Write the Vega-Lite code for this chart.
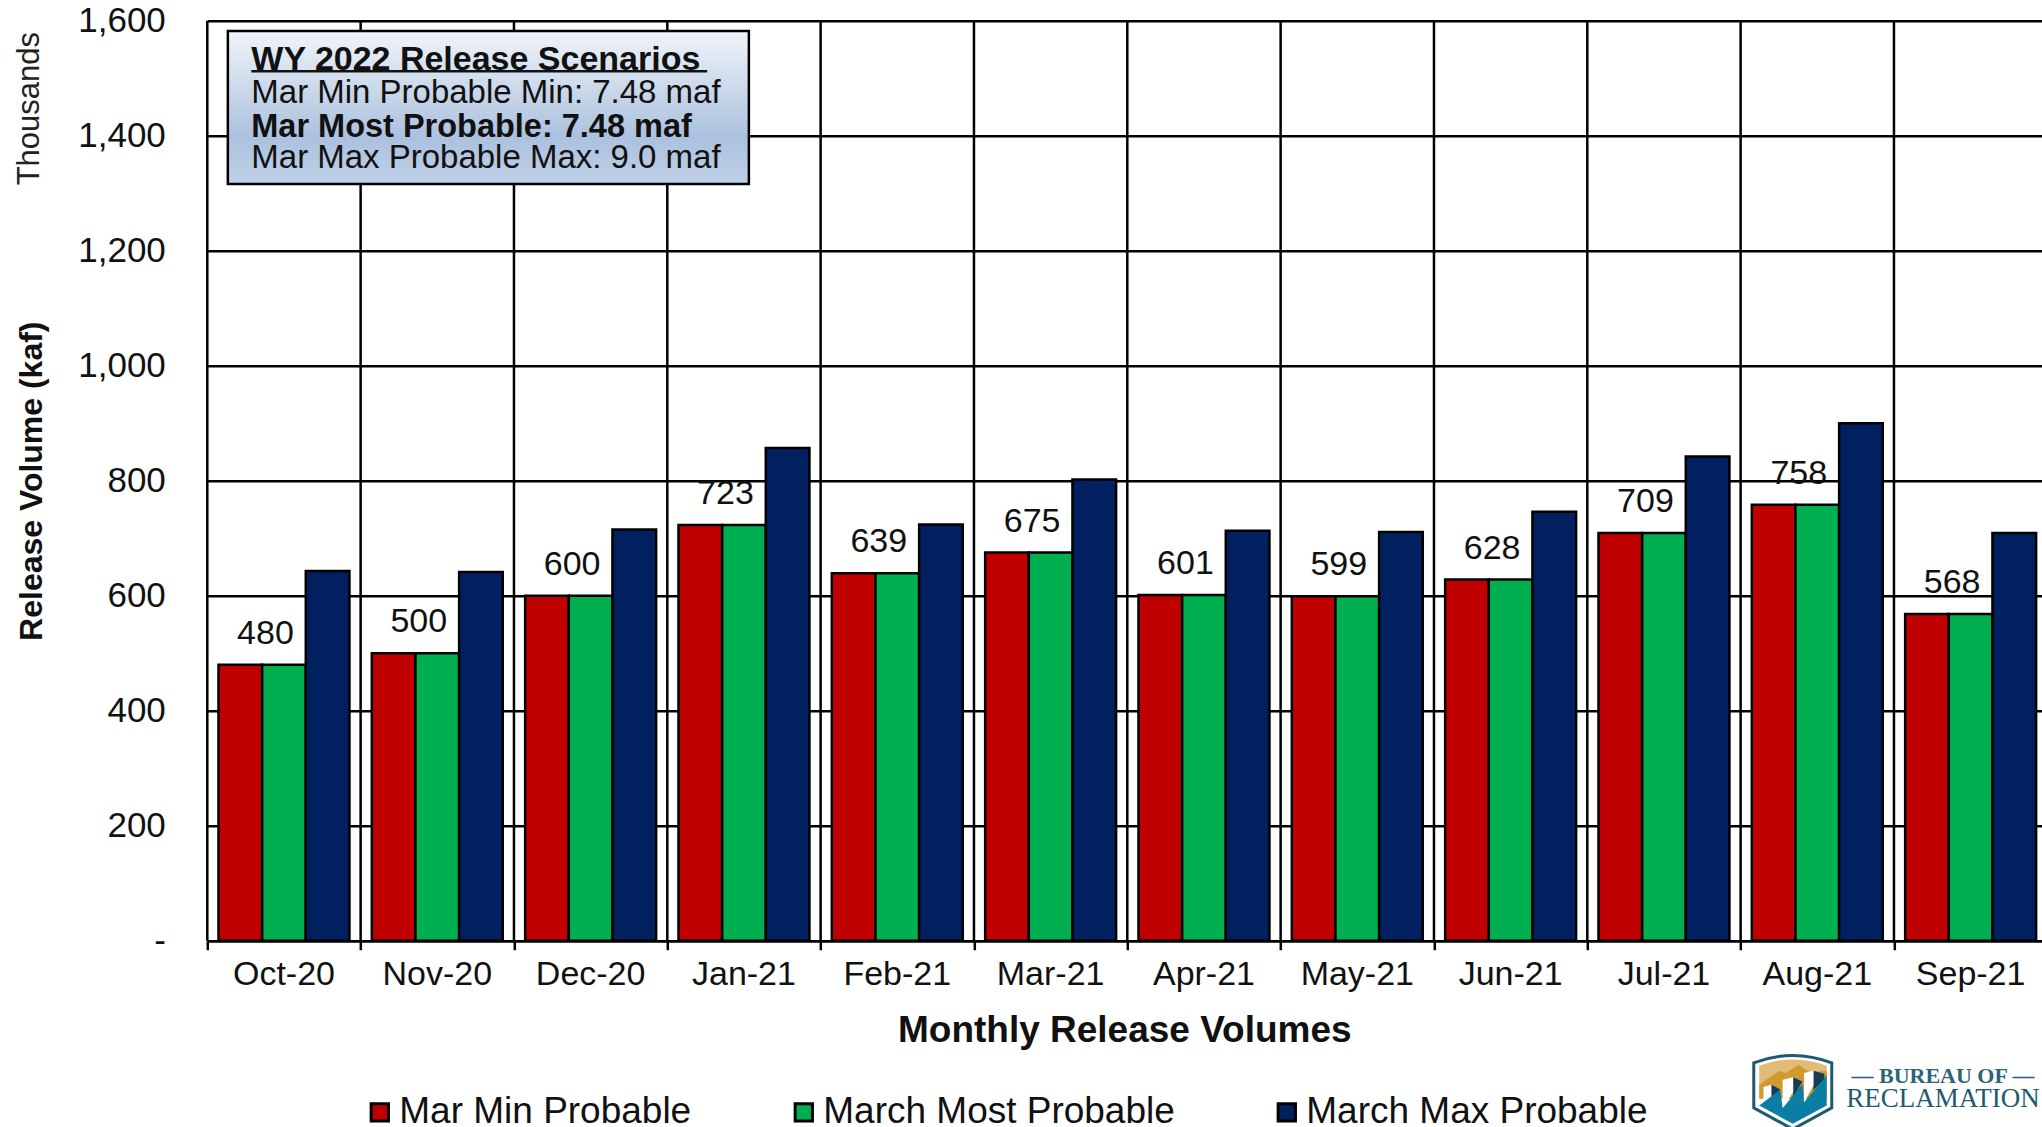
{"$schema":"https://vega.github.io/schema/vega-lite/v6.json","autosize":"none","width":1840,"height":920,"padding":{"left":207.3,"top":20.7,"right":0,"bottom":186.3},"background":"white","config":{"view":{"stroke":null},"font":"Liberation Sans"},
"datasets":{
"rel":[
{"m":"Oct-20","s":"Mar Min Probable","v":480},{"m":"Oct-20","s":"March Most Probable","v":480},{"m":"Oct-20","s":"March Max Probable","v":643},
{"m":"Nov-20","s":"Mar Min Probable","v":500},{"m":"Nov-20","s":"March Most Probable","v":500},{"m":"Nov-20","s":"March Max Probable","v":641},
{"m":"Dec-20","s":"Mar Min Probable","v":600},{"m":"Dec-20","s":"March Most Probable","v":600},{"m":"Dec-20","s":"March Max Probable","v":715},
{"m":"Jan-21","s":"Mar Min Probable","v":723},{"m":"Jan-21","s":"March Most Probable","v":723},{"m":"Jan-21","s":"March Max Probable","v":857},
{"m":"Feb-21","s":"Mar Min Probable","v":639},{"m":"Feb-21","s":"March Most Probable","v":639},{"m":"Feb-21","s":"March Max Probable","v":724},
{"m":"Mar-21","s":"Mar Min Probable","v":675},{"m":"Mar-21","s":"March Most Probable","v":675},{"m":"Mar-21","s":"March Max Probable","v":802},
{"m":"Apr-21","s":"Mar Min Probable","v":601},{"m":"Apr-21","s":"March Most Probable","v":601},{"m":"Apr-21","s":"March Max Probable","v":713},
{"m":"May-21","s":"Mar Min Probable","v":599},{"m":"May-21","s":"March Most Probable","v":599},{"m":"May-21","s":"March Max Probable","v":711},
{"m":"Jun-21","s":"Mar Min Probable","v":628},{"m":"Jun-21","s":"March Most Probable","v":628},{"m":"Jun-21","s":"March Max Probable","v":746},
{"m":"Jul-21","s":"Mar Min Probable","v":709},{"m":"Jul-21","s":"March Most Probable","v":709},{"m":"Jul-21","s":"March Max Probable","v":842},
{"m":"Aug-21","s":"Mar Min Probable","v":758},{"m":"Aug-21","s":"March Most Probable","v":758},{"m":"Aug-21","s":"March Max Probable","v":900},
{"m":"Sep-21","s":"Mar Min Probable","v":568},{"m":"Sep-21","s":"March Most Probable","v":568},{"m":"Sep-21","s":"March Max Probable","v":709}],
"edges":[{"e":0},{"e":1},{"e":2},{"e":3},{"e":4},{"e":5},{"e":6},{"e":7},{"e":8},{"e":9},{"e":10},{"e":11},{"e":12}],
"box":[{"a":0.134,"b":3.532,"lo":1316,"hi":1582}],
"ul":[{"a":0.287,"b":3.26,"y":1512}],
"notes":[{"a":0.287,"y":1532,"t":"WY 2022 Release Scenarios","k":"head"},{"a":0.287,"y":1475,"t":"Mar Min Probable Min: 7.48 maf","k":"plain"},{"a":0.287,"y":1416,"t":"Mar Most Probable: 7.48 maf","k":"bold"},{"a":0.287,"y":1362,"t":"Mar Max Probable Max: 9.0 maf","k":"plain"}],
"side":[{"a":-1.155,"y":1447,"t":"Thousands"}],
"logo":[{"a":10.34,"y":-260}],
"logotext":[{"a":11.32,"y":-235,"t":"— BUREAU OF —"}],
"logotext2":[{"a":11.32,"y":-275,"t":"RECLAMATION"}]},
"resolve":{"scale":{"x":"independent"}},
"layer":[
{"data":{"name":"edges"},"mark":{"type":"rule","stroke":"black","strokeWidth":2.5},
"encoding":{"x":{"field":"e","type":"quantitative","scale":{"domain":[0,12],"nice":false},
"axis":{"orient":"bottom","values":[0,1,2,3,4,5,6,7,8,9,10,11,12],"title":null,"labels":false,"grid":false,"domain":true,"domainColor":"black","domainWidth":2.5,"tickColor":"black","tickSize":9,"tickWidth":2.5}}}},
{"data":{"name":"rel"},"mark":{"type":"bar","stroke":"black","strokeWidth":2.5},
"encoding":{
"x":{"field":"m","type":"nominal","sort":null,"scale":{"paddingInner":0.146,"paddingOuter":0.073},
"axis":{"orient":"bottom","title":"Monthly Release Volumes","titleFont":"Liberation Sans","titleFontSize":37,"titleFontWeight":"bold","titleColor":"#111","titlePadding":21,"titleX":917,"labelAngle":0,"labelFont":"Liberation Sans","labelFontSize":34,"labelColor":"#111","labelPadding":17,"ticks":false,"domain":false,"grid":false,"labelOverlap":false}},
"xOffset":{"field":"s","type":"nominal","sort":["Mar Min Probable","March Most Probable","March Max Probable"],"scale":{"paddingInner":0,"paddingOuter":0}},
"y":{"field":"v","type":"quantitative","scale":{"domain":[0,1600],"nice":false},
"axis":{"title":"Release Volume (kaf)","titleFont":"Liberation Sans","titleFontSize":32,"titleFontWeight":"bold","titleColor":"#111","titleX":-159,"titleY":460,"values":[0,200,400,600,800,1000,1200,1400,1600],"labelExpr":"datum.value==0?'-':format(datum.value,',')","labelFont":"Liberation Sans","labelFontSize":35,"labelColor":"#111","labelPadding":42,"ticks":false,"domain":false,"grid":true,"gridColor":"black","gridWidth":2.5,"gridOpacity":1}},
"fill":{"field":"s","type":"nominal","sort":["Mar Min Probable","March Most Probable","March Max Probable"],"scale":{"domain":["Mar Min Probable","March Most Probable","March Max Probable"],"range":["#C00000","#00B050","#002060"]},
"legend":{"title":null,"orient":"none","legendX":154,"legendY":1073,"direction":"horizontal","columns":3,"columnPadding":93,"symbolType":"square","symbolSize":300,"symbolStrokeColor":"black","symbolStrokeWidth":3,"symbolOpacity":1,"labelFont":"Liberation Sans","labelFontSize":37,"labelColor":"#111","labelOffset":1,"labelLimit":600}}}},
{"data":{"name":"rel"},"transform":[{"filter":"datum.s=='March Most Probable'"}],"mark":{"type":"text","baseline":"alphabetic","align":"center","dx":-18.5,"dy":-21,"font":"Liberation Sans","fontSize":34,"fill":"#111"},
"encoding":{"x":{"field":"m","type":"nominal","sort":null,"scale":{"paddingInner":0.146,"paddingOuter":0.073},"axis":null},"y":{"field":"v","type":"quantitative"},"text":{"field":"v","type":"quantitative"}}},
{"data":{"name":"box"},"mark":{"type":"rect","stroke":"black","strokeWidth":2.5,"fill":{"gradient":"linear","x1":0,"y1":0,"x2":0,"y2":1,"stops":[{"offset":0,"color":"#f0f4f9"},{"offset":0.7,"color":"#abc1de"},{"offset":1,"color":"#bfd1e7"}]}},
"encoding":{"x":{"field":"a","type":"quantitative","scale":{"domain":[0,12],"nice":false},"axis":null},"x2":{"field":"b"},"y":{"field":"lo","type":"quantitative"},"y2":{"field":"hi"}}},
{"data":{"name":"ul"},"mark":{"type":"rule","stroke":"#111","strokeWidth":2.5},"encoding":{"x":{"field":"a","type":"quantitative","scale":{"domain":[0,12],"nice":false},"axis":null},"x2":{"field":"b"},"y":{"field":"y","type":"quantitative"}}},
{"data":{"name":"notes"},"transform":[{"filter":"datum.k=='head'"}],"mark":{"type":"text","align":"left","baseline":"middle","font":"Liberation Sans","fontSize":34,"fontWeight":"bold","fill":"#111"},"encoding":{"x":{"field":"a","type":"quantitative","scale":{"domain":[0,12],"nice":false},"axis":null},"y":{"field":"y","type":"quantitative"},"text":{"field":"t"}}},
{"data":{"name":"notes"},"transform":[{"filter":"datum.k=='bold'"}],"mark":{"type":"text","align":"left","baseline":"middle","font":"Liberation Sans","fontSize":32.5,"fontWeight":"bold","fill":"#111"},"encoding":{"x":{"field":"a","type":"quantitative","scale":{"domain":[0,12],"nice":false},"axis":null},"y":{"field":"y","type":"quantitative"},"text":{"field":"t"}}},
{"data":{"name":"notes"},"transform":[{"filter":"datum.k=='plain'"}],"mark":{"type":"text","align":"left","baseline":"middle","font":"Liberation Sans","fontSize":33,"fill":"#111"},"encoding":{"x":{"field":"a","type":"quantitative","scale":{"domain":[0,12],"nice":false},"axis":null},"y":{"field":"y","type":"quantitative"},"text":{"field":"t"}}},
{"data":{"name":"side"},"mark":{"type":"text","angle":270,"align":"center","baseline":"middle","font":"Liberation Sans","fontSize":31,"fill":"#222"},"encoding":{"x":{"field":"a","type":"quantitative","scale":{"domain":[0,12],"nice":false},"axis":null},"y":{"field":"y","type":"quantitative"},"text":{"field":"t"}}},
{"data":{"name":"logotext"},"mark":{"type":"text","align":"center","baseline":"middle","font":"Liberation Serif","fontSize":22,"fontWeight":"bold","fill":"#2c6478"},"encoding":{"x":{"field":"a","type":"quantitative","scale":{"domain":[0,12],"nice":false},"axis":null},"y":{"field":"y","type":"quantitative"},"text":{"field":"t"}}},
{"data":{"name":"logotext2"},"mark":{"type":"text","align":"center","baseline":"middle","font":"Liberation Serif","fontSize":27,"fill":"#1f5a70"},"encoding":{"x":{"field":"a","type":"quantitative","scale":{"domain":[0,12],"nice":false},"axis":null},"y":{"field":"y","type":"quantitative"},"text":{"field":"t"}}},
{"data":{"name":"logo"},"mark":{"type":"point","filled":true,"size":6084,"opacity":1,"shape":"M-1,-0.7 Q0,-1.08 1,-0.7 L1,0.45 L0,1 L-1,0.45 Z","fill":"white","stroke":"#1f5a70","strokeWidth":3},"encoding":{"x":{"field":"a","type":"quantitative","scale":{"domain":[0,12],"nice":false},"axis":null},"y":{"field":"y","type":"quantitative"}}},
{"data":{"name":"logo"},"mark":{"type":"point","filled":true,"size":6084,"opacity":1,"strokeWidth":0,"shape":"M-0.86,-0.63 Q0,-0.95 0.87,-0.63 L0.87,0.1 L-0.86,0.1 Z","fill":"#e3bb78"},"encoding":{"x":{"field":"a","type":"quantitative","scale":{"domain":[0,12],"nice":false},"axis":null},"y":{"field":"y","type":"quantitative"}}},
{"data":{"name":"logo"},"mark":{"type":"point","filled":true,"size":6084,"opacity":1,"strokeWidth":0,"shape":"M-0.86,-0.14 L-0.35,-0.5 L-0.18,-0.44 L0.16,-0.65 L0.42,-0.46 L0.87,-0.5 L0.87,0.22 L-0.86,0.22 Z","fill":"#d29a2e"},"encoding":{"x":{"field":"a","type":"quantitative","scale":{"domain":[0,12],"nice":false},"axis":null},"y":{"field":"y","type":"quantitative"}}},
{"data":{"name":"logo"},"mark":{"type":"point","filled":true,"size":6084,"opacity":1,"strokeWidth":0,"shape":"M-0.55,-0.14 L-0.32,-0.02 L-0.55,0.24 Z M0.01,-0.33 L0.25,-0.22 L0.01,0.18 Z M0.53,-0.5 L0.81,-0.42 L0.81,-0.28 L0.53,0 Z","fill":"#123f55"},"encoding":{"x":{"field":"a","type":"quantitative","scale":{"domain":[0,12],"nice":false},"axis":null},"y":{"field":"y","type":"quantitative"}}},
{"data":{"name":"logo"},"mark":{"type":"point","filled":true,"size":6084,"opacity":1,"strokeWidth":0,"shape":"M-0.75,-0.08 L-0.55,-0.14 L-0.55,0.18 L-0.75,0.39 Z M-0.26,-0.27 L0.01,-0.33 L0.01,0.05 L-0.26,0.44 Z M0.29,-0.44 L0.53,-0.5 L0.53,-0.12 L0.29,0.31 Z","fill":"white"},"encoding":{"x":{"field":"a","type":"quantitative","scale":{"domain":[0,12],"nice":false},"axis":null},"y":{"field":"y","type":"quantitative"}}},
{"data":{"name":"logo"},"mark":{"type":"point","filled":true,"size":6084,"opacity":1,"strokeWidth":0,"shape":"M-0.86,0.39 L-0.32,-0.02 L-0.26,0.46 L0.25,-0.16 L0.29,0.31 L0.87,-0.38 L0.87,0.39 L0,0.86 Z","fill":"#0a7ea4"},"encoding":{"x":{"field":"a","type":"quantitative","scale":{"domain":[0,12],"nice":false},"axis":null},"y":{"field":"y","type":"quantitative"}}}
]}
